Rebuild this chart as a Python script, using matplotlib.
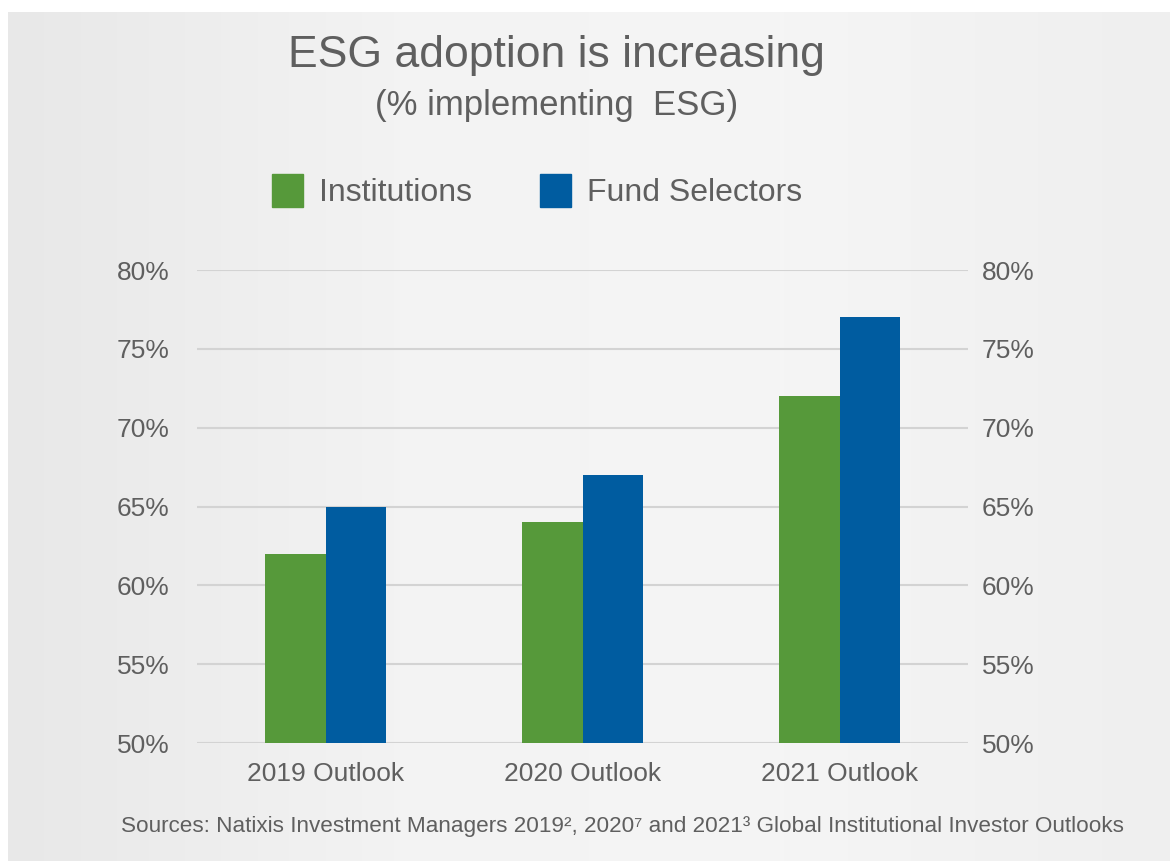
import numpy as np
import matplotlib
matplotlib.use("Agg")
from matplotlib import pyplot as plt
from matplotlib.patches import Patch

plt.rcParams['font.family'] = ['Liberation Sans', 'DejaVu Sans']

categories = ["2019 Outlook", "2020 Outlook", "2021 Outlook"]
institutions = [62, 64, 72]
fund_selectors = [65, 67, 77]
yticks = [50, 55, 60, 65, 70, 75, 80]

green = "#56993a"
blue = "#005ca0"
grey_text = "#5f5f5f"

fig = plt.figure(figsize=(11.7, 8.61), dpi=100, facecolor="white")

# faded background panel
bg = fig.add_axes([0.007, 0, 0.993, 0.986])
grad = np.linspace(0, 1, 256).reshape(1, -1)
bg.imshow(grad, aspect="auto", cmap=matplotlib.colors.LinearSegmentedColormap.from_list(
    "bgc", ["#e8e8e8", "#f3f3f3", "#f5f5f5", "#efefef"]), extent=[0, 1, 0, 1])
bg.set_axis_off()

ax = fig.add_axes([0.1684, 0.137, 0.659, 0.5494])
ax.patch.set_alpha(0)
x = np.arange(len(categories))
w = 0.235
ax.bar(x - w / 2, institutions, w, color=green, zorder=3)
ax.bar(x + w / 2, fund_selectors, w, color=blue, zorder=3)

ax.set_xlim(-0.5, 2.5)
ax.set_ylim(50, 80)
ax.set_yticks(yticks)
ax.set_yticklabels([f"{v}%" for v in yticks])
ax.yaxis.grid(True, color="#d3d3d3", linewidth=1.5, zorder=0)
ax.set_xticks(x)
ax.set_xticklabels(categories)
for s in ax.spines.values():
    s.set_visible(False)
ax.tick_params(axis="y", length=0, pad=20, labelsize=19, labelcolor=grey_text)
ax.tick_params(axis="x", length=0, pad=14, labelsize=19, labelcolor=grey_text)

ax2 = ax.twinx()
ax2.set_ylim(50, 80)
ax2.set_yticks(yticks)
ax2.set_yticklabels([f"{v}%" for v in yticks])
for s in ax2.spines.values():
    s.set_visible(False)
ax2.tick_params(axis="y", length=0, pad=10, labelsize=19, labelcolor=grey_text)

fig.text(0.476, 0.935, "ESG adoption is increasing", ha="center", va="center",
         fontsize=32, color=grey_text)
fig.text(0.476, 0.877, "(% implementing  ESG)", ha="center", va="center",
         fontsize=25, color=grey_text)

handles = [Patch(color=green, label="Institutions"), Patch(color=blue, label="Fund Selectors")]
fig.legend(handles=handles, loc="center", bbox_to_anchor=(0.459, 0.778), ncol=2,
           frameon=False, fontsize=23, labelcolor=grey_text, handlelength=0.95,
           handleheight=1.2, handletextpad=0.5, columnspacing=2.15)

fig.text(0.532, 0.040,
         "Sources: Natixis Investment Managers 2019\u00b2, 2020\u2077 and 2021\u00b3 Global Institutional Investor Outlooks",
         ha="center", va="center", fontsize=16.2, color=grey_text)

fig.savefig("out.png", dpi=100, facecolor="white")
